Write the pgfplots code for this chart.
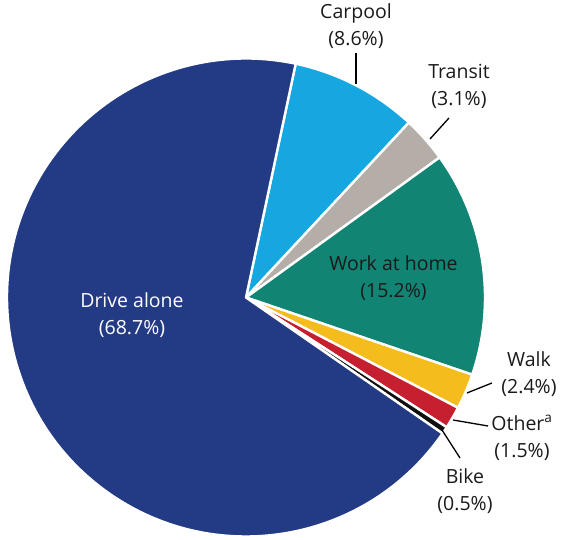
\documentclass[border=0pt]{standalone}
\usepackage{pgfplots}
\pgfplotsset{compat=1.18}
\usepackage{fontspec}
\setmainfont{Open Sans}
\definecolor{drive}{HTML}{233A84}
\definecolor{carpool}{HTML}{16A7E0}
\definecolor{transit}{HTML}{B5ADA7}
\definecolor{work}{HTML}{128474}
\definecolor{walk}{HTML}{F4BC1C}
\definecolor{other}{HTML}{C61F30}
\definecolor{bike}{HTML}{111111}
\definecolor{txt}{HTML}{1A1A1A}
\begin{document}
\begin{tikzpicture}
\begin{axis}[
  width=563pt, height=540pt, scale only axis,
  xmin=0, xmax=563, ymin=0, ymax=540,
  hide axis, clip=false]
\coordinate (ll) at (axis cs:0,0);
\coordinate (ur) at (axis cs:563,540);
\pgfplotsextra{
  \xdef\curang{78}
  \foreach \v/\c in {8.6/carpool,3.1/transit,15.2/work,2.4/walk,1.5/other,0.5/bike,68.7/drive}{
    \pgfmathsetmacro\nextang{\curang-3.6*\v}
    \fill[\c, draw=white, line width=2.4pt, line join=round]
      (axis cs:246,242.5) -- ++(\curang:239pt)
      arc[start angle=\curang, end angle=\nextang, radius=239pt] -- cycle;
    \xdef\curang{\nextang}
  }
}
\tikzset{lab/.style={font=\fontsize{19.5}{27}\selectfont, align=center, text=txt, inner sep=0pt}}
\node[lab, text=white] at (axis cs:132,224.5) {Drive alone\\(68.7\%)};
\node[lab] at (axis cs:393.5,261.5) {Work at home\\(15.2\%)};
\node[lab] at (axis cs:356,513.5) {Carpool\\(8.6\%)};
\node[lab] at (axis cs:459,453.5) {Transit\\(3.1\%)};
\node[lab] at (axis cs:529,165.5) {Walk\\(2.4\%)};
\node[lab] at (axis cs:522,102) {Other\textsuperscript{a}\\(1.5\%)};
\node[lab] at (axis cs:465,48.5) {Bike\\(0.5\%)};
\draw[black, line width=1.3pt] (axis cs:356,487) -- (axis cs:356,456);
\draw[black, line width=1.3pt] (axis cs:449,422) -- (axis cs:430,401);
\draw[black, line width=1.3pt] (axis cs:467,147) -- (axis cs:492,157);
\draw[black, line width=1.3pt] (axis cs:453,120) -- (axis cs:488,114);
\draw[black, line width=1.3pt] (axis cs:442,110) -- (axis cs:460,82);
\end{axis}
\pgfresetboundingbox
\useasboundingbox (ll) rectangle (ur);
\end{tikzpicture}
\end{document}
